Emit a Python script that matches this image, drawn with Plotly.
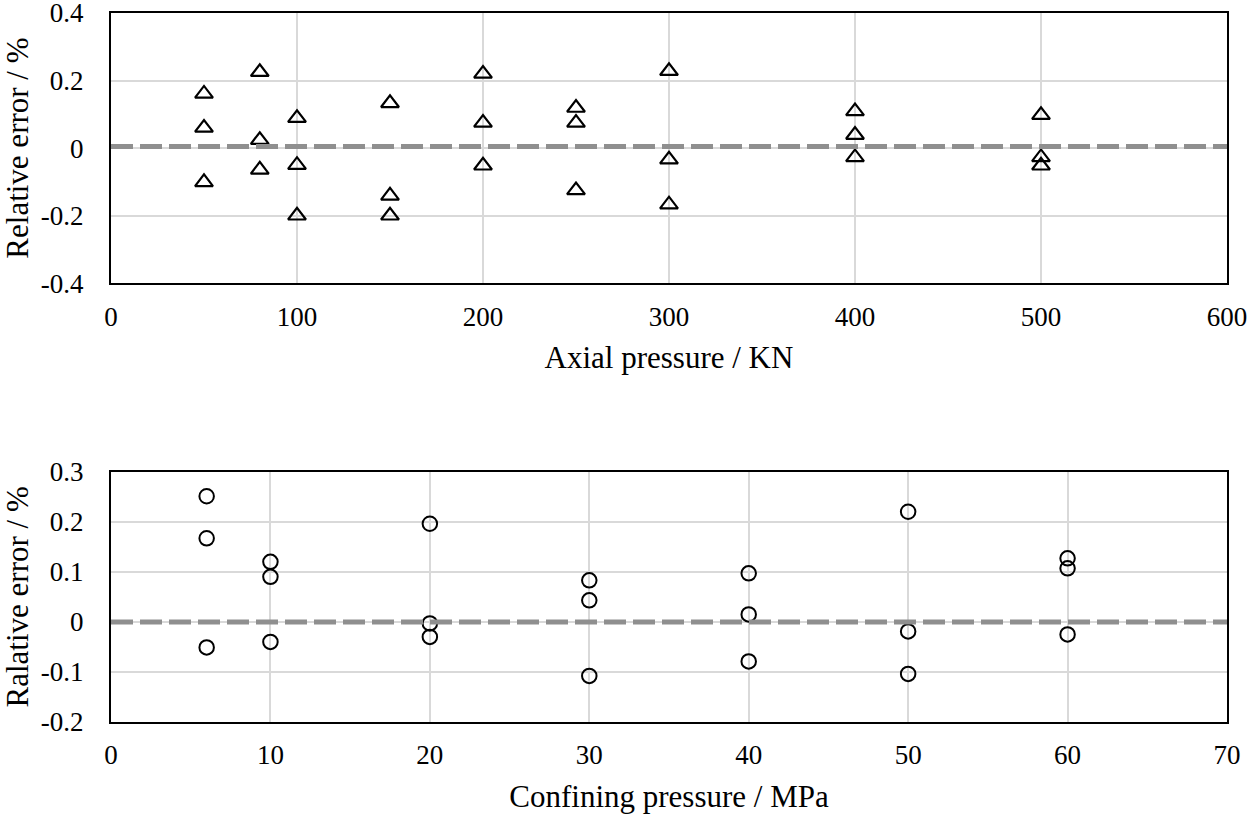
import plotly.graph_objects as go

# Top panel: axial pressure (KN) vs relative error (%)
axial_x = [50, 50, 50, 80, 80, 80, 100, 100, 100, 150, 150, 150, 200, 200, 200,
           250, 250, 250, 300, 300, 300, 400, 400, 400, 500, 500, 500]
axial_err = [0.161, 0.060, -0.101, 0.225, 0.024, -0.064, 0.089, -0.050, -0.200,
             0.133, -0.141, -0.200, 0.220, 0.075, -0.052, 0.119, 0.075, -0.125,
             0.228, -0.034, -0.167, 0.109, 0.039, -0.027, 0.098, -0.027, -0.052]

# Bottom panel: confining pressure (MPa) vs relative error (%)
conf_x = [6, 6, 6, 10, 10, 10, 20, 20, 20, 30, 30, 30, 40, 40, 40, 50, 50, 50, 60, 60, 60]
conf_err = [0.251, 0.167, -0.051, 0.120, 0.090, -0.040, 0.196, -0.003, -0.030,
            0.083, 0.043, -0.108, 0.097, 0.015, -0.079, 0.220, -0.019, -0.104,
            0.127, 0.107, -0.025]

ref_top = 0.005
ref_bottom = 0.0

top_xticks = [0, 100, 200, 300, 400, 500, 600]
top_xticktext = ["0", "100", "200", "300", "400", "500", "600"]
top_yticks = [-0.4, -0.2, 0, 0.2, 0.4]
top_yticktext = ["-0.4", "-0.2", "0", "0.2", "0.4"]
bot_xticks = [0, 10, 20, 30, 40, 50, 60, 70]
bot_xticktext = ["0", "10", "20", "30", "40", "50", "60", "70"]
bot_yticks = [-0.2, -0.1, 0, 0.1, 0.2, 0.3]
bot_yticktext = ["-0.2", "-0.1", "0", "0.1", "0.2", "0.3"]

FONT = "Liberation Serif"
GRID = "#d9d9d9"

fig = go.Figure()
fig.add_trace(go.Scatter(
    x=axial_x, y=axial_err, mode="markers", xaxis="x", yaxis="y",
    marker=dict(symbol="triangle-up-open", size=15.5, color="black",
                line=dict(color="black", width=2.2)),
    showlegend=False))
fig.add_trace(go.Scatter(
    x=conf_x, y=conf_err, mode="markers", xaxis="x2", yaxis="y2",
    marker=dict(symbol="circle-open", size=14.5, color="black",
                line=dict(color="black", width=2)),
    showlegend=False))

# dashed reference lines
fig.add_shape(type="line", xref="x domain", yref="y", x0=0, x1=1, y0=ref_top, y1=ref_top,
              line=dict(color="#8f8f8f", width=5, dash="22px,7px"), layer="above")
fig.add_shape(type="line", xref="x2 domain", yref="y2", x0=0, x1=1, y0=ref_bottom, y1=ref_bottom,
              line=dict(color="#8f8f8f", width=5, dash="22px,7px"), layer="above")


def axis_style(**kw):
    d = dict(showline=True, linecolor="black", linewidth=2, mirror=True,
             showgrid=True, gridcolor=GRID, gridwidth=1.5, zeroline=False,
             ticks="outside", tickcolor="rgba(0,0,0,0)", tickmode="array",
             tickfont=dict(family=FONT, size=27, color="black"),
             ticklabeloverflow="allow", automargin=False)
    d.update(kw)
    return d


fig.update_layout(
    width=1250, height=821,
    paper_bgcolor="white", plot_bgcolor="white",
    margin=dict(l=111, r=23, t=12.5, b=98.7),
    font=dict(family=FONT, color="black", size=27),
    xaxis=axis_style(domain=[0, 1], anchor="y", range=[0, 600], tickvals=top_xticks,
                     ticktext=top_xticktext, ticklen=8,
                     title=dict(text="Axial pressure / KN", font=dict(family=FONT, size=31), standoff=16)),
    yaxis=axis_style(domain=[0.619, 1], anchor="x", range=[-0.4000001, 0.4000001], tickvals=top_yticks,
                     ticktext=top_yticktext, ticklen=20,
                     title=dict(text="Relative error / %", font=dict(family=FONT, size=31), standoff=12)),
    xaxis2=axis_style(domain=[0, 1], anchor="y2", range=[0, 70], tickvals=bot_xticks,
                      ticktext=bot_xticktext, ticklen=8,
                      title=dict(text="Confining pressure / MPa", font=dict(family=FONT, size=31), standoff=16)),
    yaxis2=axis_style(domain=[0, 0.353], anchor="x2", range=[-0.2000001, 0.3000001], tickvals=bot_yticks,
                      ticktext=bot_yticktext, ticklen=20,
                      title=dict(text="Ralative error / %", font=dict(family=FONT, size=31), standoff=12)),
)

fig.write_html("out.html", config={"displayModeBar": False},
               post_script="document.body.style.margin='0';")
